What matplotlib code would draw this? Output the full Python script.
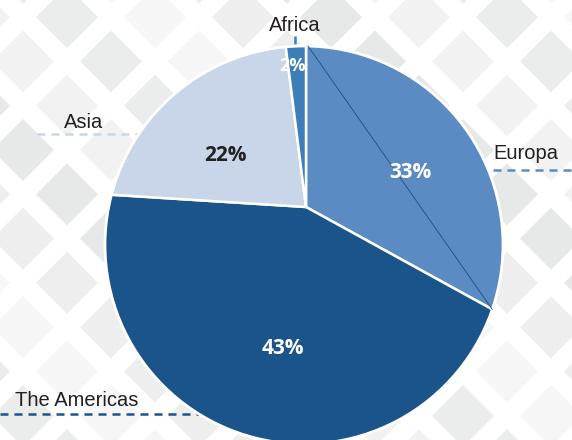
# Share by region - pie with offset apex, dashed leaders and diamond backdrop
import numpy as np
import matplotlib
matplotlib.use("Agg")
import matplotlib.pyplot as plt
from matplotlib.patches import Circle, Polygon
from matplotlib.path import Path

# data
regions = ["Europa", "The Americas", "Asia", "Africa"]
shares = [33, 43, 22, 2]
colors = ["#5a8cc3", "#1b548b", "#c9d6ea", "#3d7eb9"]
pct_colors = ["white", "white", "#222222", "white"]

# layout (pixel coords, y measured from top)
W, H = 572, 440
apex_px = (306, 207)
rim_px = (304, 245)
R = 199
pct_pos = [(410, 172), (283, 348), (225, 155), (293, 66)]
label_pos = [(493, 159, "left"), (15, 406, "left"), (64, 128, "left"), (295, 31, "center")]
leaders = [((493, 170), (W, 170)), ((0, 414), (199, 414)),
           ((37, 134), (139, 134)), ((295, 36), (295, 47))]

V = (apex_px[0], H - apex_px[1])
C = (rim_px[0], H - rim_px[1])

fig = plt.figure(figsize=(5.72, 4.40), dpi=100)
fig.patch.set_facecolor("white")
ax = fig.add_axes([0, 0, 1, 1])

# diamond backdrop
greys = ["#e7e8e8", "#f2f2f2", "#ebecec", "#f6f6f6", "#eeeeee"]
h = 31
for i in range(-1, 15):
    for j in range(-5, 12):
        if (i + j) % 2:
            continue
        cx = 23 + 44 * i
        cy = H - (150 + 44.3 * j)
        pts = [(cx - h, cy), (cx, cy + h), (cx + h, cy), (cx, cy - h)]
        ax.add_patch(Polygon(pts, closed=True, fc=greys[(i * 3 + j * 7) % 5],
                             ec="none", zorder=0))

# dashed leaders
for (p0, p1), col in zip(leaders, colors):
    ax.plot([p0[0], p1[0]], [H - p0[1], H - p1[1]], color=col, lw=1.8,
            linestyle=(0, (3.2, 2.4)), zorder=1, solid_capstyle="butt")

# pie: big wedges from the apex, clipped to the rim circle
wedges, _ = ax.pie(shares, colors=colors, center=V, radius=330, startangle=90,
                   counterclock=False,
                   wedgeprops=dict(edgecolor="white", linewidth=1.8, zorder=3))
ax.set_xlim(0, W)
ax.set_ylim(0, H)
ax.set_aspect("equal")

rim_path = Path.circle(C, R)
for w in wedges:
    w.set_clip_on(True)
    w.set_clip_path(rim_path, ax.transData)
ax.add_patch(Circle(C, R, fill=False, ec="white", lw=2, zorder=4))

# thin chord across the Europa slice
def rim_point(theta):
    d = np.array([np.cos(np.radians(theta)), np.sin(np.radians(theta))])
    off = np.array(V) - np.array(C)
    b = d @ off
    c = off @ off - R ** 2
    t = -b + np.sqrt(b * b - c)
    return np.array(V) + t * d

a0 = 90
a1 = 90 - 360 * shares[0] / sum(shares)
p0, p1 = rim_point(a0), rim_point(a1)
ax.plot([p0[0] + 2, p1[0]], [p0[1], p1[1]], color="#1b4e80", lw=0.6, zorder=5)

# percentages
for v, (x, y), col in zip(shares, pct_pos, pct_colors):
    ax.text(x, H - y, f"{v}%", color=col, fontsize=15 if v > 5 else 13,
            fontweight="bold", family=["Open Sans", "DejaVu Sans"],
            ha="center", va="center", zorder=6)

# region labels
for name, (x, y, ha) in zip(regions, label_pos):
    ax.text(x, H - y, name, color="#231f20", fontsize=14.5,
            family=["Liberation Sans", "DejaVu Sans"], ha=ha, va="baseline", zorder=6)

ax.axis("off")

fig.savefig("out.png", dpi=100)
